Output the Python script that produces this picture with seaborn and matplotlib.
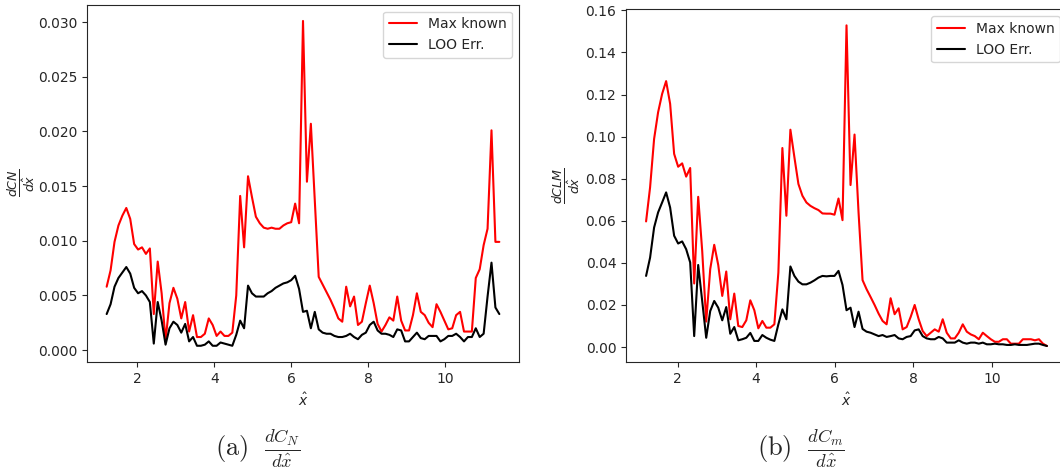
import numpy as np
import seaborn as sns
import matplotlib
matplotlib.use("Agg")
import matplotlib.pyplot as plt

# sample positions along x-hat (101 evenly spaced stations)
x_hat = np.linspace(1.2, 11.4, 101)

# dC_N / dx-hat
cn_max = [0.0058, 0.0073, 0.0099, 0.0114, 0.0123, 0.0130, 0.0120, 0.0097, 0.0092, 0.0094,
          0.0088, 0.0093, 0.0033, 0.0081, 0.0052, 0.0009, 0.0043, 0.0057, 0.0047, 0.0029,
          0.0044, 0.0017, 0.0032, 0.0012, 0.0012, 0.0015, 0.0029, 0.0023, 0.0013, 0.0017,
          0.0013, 0.0013, 0.0016, 0.0050, 0.0141, 0.0094, 0.0159, 0.0140, 0.0122, 0.0116,
          0.0112, 0.0111, 0.0112, 0.0111, 0.0111, 0.0114, 0.0116, 0.0117, 0.0134, 0.0116,
          0.0301, 0.0154, 0.0207, 0.0137, 0.0067, 0.0060, 0.0053, 0.0046, 0.0038, 0.0029,
          0.0026, 0.0058, 0.0040, 0.0049, 0.0023, 0.0026, 0.0043, 0.0059, 0.0043, 0.0024,
          0.0017, 0.0023, 0.0030, 0.0027, 0.0049, 0.0027, 0.0018, 0.0018, 0.0032, 0.0052,
          0.0035, 0.0032, 0.0025, 0.0021, 0.0042, 0.0035, 0.0027, 0.0019, 0.0020, 0.0032,
          0.0035, 0.0017, 0.0017, 0.0017, 0.0066, 0.0074, 0.0096, 0.0111, 0.0201, 0.0099,
          0.0099]
cn_loo = [0.0033, 0.0042, 0.0058, 0.0066, 0.0071, 0.0076, 0.0070, 0.0057, 0.0052, 0.0054,
          0.0050, 0.0044, 0.0006, 0.0044, 0.0027, 0.0005, 0.0020, 0.0026, 0.0023, 0.0016,
          0.0024, 0.0008, 0.0012, 0.0004, 0.0004, 0.0005, 0.0008, 0.0004, 0.0004, 0.0007,
          0.0006, 0.0005, 0.0004, 0.0014, 0.0027, 0.0020, 0.0059, 0.0052, 0.0049, 0.0049,
          0.0049, 0.0052, 0.0054, 0.0057, 0.0059, 0.0061, 0.0062, 0.0064, 0.0068, 0.0056,
          0.0035, 0.0036, 0.0020, 0.0035, 0.0019, 0.0016, 0.0015, 0.0015, 0.0013, 0.0012,
          0.0012, 0.0013, 0.0015, 0.0012, 0.0010, 0.0014, 0.0016, 0.0023, 0.0026, 0.0018,
          0.0015, 0.0015, 0.0014, 0.0012, 0.0019, 0.0018, 0.0008, 0.0008, 0.0012, 0.0016,
          0.0011, 0.0010, 0.0013, 0.0013, 0.0013, 0.0008, 0.0010, 0.0013, 0.0013, 0.0015,
          0.0012, 0.0008, 0.0012, 0.0012, 0.0020, 0.0012, 0.0015, 0.0049, 0.0080, 0.0039,
          0.0033]

# dC_m / dx-hat
cm_max = [0.0597, 0.0759, 0.0989, 0.1116, 0.1203, 0.1264, 0.1156, 0.0918, 0.0857, 0.0873,
          0.0810, 0.0851, 0.0302, 0.0714, 0.0457, 0.0121, 0.0370, 0.0486, 0.0390, 0.0243,
          0.0359, 0.0132, 0.0254, 0.0100, 0.0095, 0.0127, 0.0222, 0.0175, 0.0089, 0.0124,
          0.0092, 0.0092, 0.0108, 0.0354, 0.0946, 0.0624, 0.1033, 0.0902, 0.0775, 0.0719,
          0.0687, 0.0671, 0.0660, 0.0651, 0.0635, 0.0634, 0.0634, 0.0629, 0.0706, 0.0603,
          0.1529, 0.0770, 0.1010, 0.0640, 0.0318, 0.0275, 0.0238, 0.0200, 0.0159, 0.0124,
          0.0108, 0.0232, 0.0156, 0.0184, 0.0084, 0.0095, 0.0143, 0.0200, 0.0132, 0.0076,
          0.0052, 0.0068, 0.0084, 0.0073, 0.0132, 0.0068, 0.0041, 0.0041, 0.0068, 0.0108,
          0.0073, 0.0060, 0.0052, 0.0037, 0.0068, 0.0052, 0.0037, 0.0025, 0.0025, 0.0037,
          0.0037, 0.0016, 0.0016, 0.0016, 0.0037, 0.0037, 0.0037, 0.0032, 0.0037, 0.0016,
          0.0005]
cm_loo = [0.0338, 0.0425, 0.0568, 0.0640, 0.0687, 0.0735, 0.0663, 0.0529, 0.0492, 0.0502,
          0.0465, 0.0402, 0.0052, 0.0390, 0.0219, 0.0044, 0.0171, 0.0219, 0.0187, 0.0127,
          0.0190, 0.0063, 0.0095, 0.0032, 0.0037, 0.0044, 0.0067, 0.0029, 0.0029, 0.0057,
          0.0044, 0.0035, 0.0029, 0.0108, 0.0179, 0.0132, 0.0383, 0.0338, 0.0311, 0.0298,
          0.0298, 0.0306, 0.0317, 0.0330, 0.0338, 0.0336, 0.0338, 0.0338, 0.0362, 0.0295,
          0.0175, 0.0187, 0.0095, 0.0168, 0.0086, 0.0073, 0.0068, 0.0060, 0.0052, 0.0057,
          0.0048, 0.0052, 0.0057, 0.0041, 0.0037, 0.0048, 0.0052, 0.0079, 0.0084, 0.0052,
          0.0041, 0.0037, 0.0037, 0.0048, 0.0041, 0.0021, 0.0021, 0.0021, 0.0032, 0.0021,
          0.0016, 0.0021, 0.0021, 0.0016, 0.0021, 0.0013, 0.0013, 0.0016, 0.0013, 0.0013,
          0.0010, 0.0010, 0.0013, 0.0010, 0.0010, 0.0010, 0.0013, 0.0016, 0.0016, 0.0010,
          0.0005]

panels = [
    (cn_max, cn_loo, r'$\frac{dCN}{d\hat{x}}$', r'$\mathrm{(a)}\ \ \frac{dC_N}{d\hat{x}}$'),
    (cm_max, cm_loo, r'$\frac{dCLM}{d\hat{x}}$', r'$\mathrm{(b)}\ \ \frac{dC_m}{d\hat{x}}$'),
]

sns.set_style("ticks")
plt.rcParams['font.size'] = 10

fig = plt.figure(figsize=(10.6, 4.71), dpi=100)
rects = [[0.0821, 0.2314, 0.4075, 0.7586],
         [0.5906, 0.2314, 0.4160, 0.7488]]
label_x = [-0.115, -0.100]
caption_x = [0.243, 0.756]

for i, (y_max, y_loo, ylab, cap) in enumerate(panels):
    ax = fig.add_axes(rects[i])
    sns.lineplot(x=x_hat, y=y_max, color='red', lw=1.5, label='Max known', ax=ax)
    sns.lineplot(x=x_hat, y=y_loo, color='black', lw=1.5, label='LOO Err.', ax=ax)
    ax.set_xticks([2, 4, 6, 8, 10])
    ax.tick_params(labelsize=10)
    ax.set_xlabel(r'$\hat{x}$', fontsize=10)
    ax.set_ylabel(ylab, fontsize=13)
    ax.yaxis.set_label_coords(label_x[i], 0.5)
    ax.legend(loc='upper right', fontsize=10)
    fig.text(caption_x[i], 0.048, cap, fontsize=19, math_fontfamily='cm',
             ha='center', va='center')

fig.savefig('out.png', dpi=100)
